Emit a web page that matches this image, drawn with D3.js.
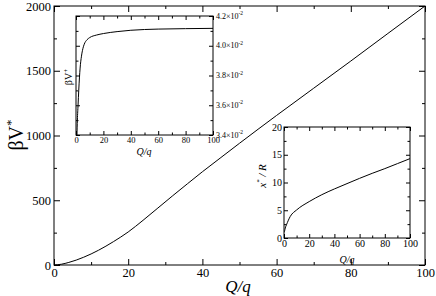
<!DOCTYPE html>
<html>
<head>
<meta charset="utf-8">
<script src="https://cdn.jsdelivr.net/npm/d3@7"></script>
<style>
  html, body { margin: 0; padding: 0; background: #fff; }
  svg { display: block; font-family: "Liberation Serif", "DejaVu Serif", serif; }
  svg text { font-family: "Liberation Serif", "DejaVu Serif", serif !important; }
</style>
</head>
<body>
<svg id="chart" width="436" height="296"></svg>
<script>
// ── Data ───────────────────────────────────────────────────────
const mainQ = [0, 2, 4, 6, 8, 12, 16, 20, 24, 28, 32, 36, 40, 45, 50, 60, 70, 80, 90, 100];
const mainV = [0, 6, 20, 38, 60, 114, 180, 255, 345, 440, 535, 628, 720, 830, 940, 1155, 1365, 1575, 1788, 2000];

const insetAQ = [0.7, 1, 1.5, 2, 3, 4, 5, 6, 8, 10, 15, 20, 30, 40, 60, 80, 100];
const insetAV = [0.0340, 0.0350, 0.0360, 0.0370, 0.0385, 0.0393, 0.0398, 0.0401, 0.0404, 0.04055,
                 0.04072, 0.04082, 0.04095, 0.04104, 0.04112, 0.04115, 0.04117];

const insetBQ = [0, 0.5, 1, 2, 5, 10, 20, 30, 40, 50, 60, 70, 80, 90, 100];
const insetBX = [1.0, 1.3, 1.8, 2.4, 3.9, 5.05, 6.56, 7.8, 8.84, 9.8, 10.75, 11.65, 12.5, 13.4, 14.3];

const qTicks = [0, 20, 40, 60, 80, 100];
const qMinor = [10, 30, 50, 70, 90];
const mainYTicks = [0, 500, 1000, 1500, 2000];
const mainYMinor = [250, 750, 1250, 1750];
const insetAYTicks = [0.034, 0.036, 0.038, 0.040, 0.042];
const insetAYMinor = [0.035, 0.037, 0.039, 0.041];
const insetAYLabels = ['3.4', '3.6', '3.8', '4.0', '4.2'];
const insetBYTicks = [0, 5, 10, 15, 20];
const insetBYMinor = [2.5, 7.5, 12.5, 17.5];

const svg = d3.select('#chart');

// ── Panel helper: frame + inward ticks on all four sides ───────
function panel(opts) {
  const { x, y, major, minor, fs } = opts;
  const [x0, x1] = x.range();
  const [y0, y1] = y.range(); // y0 bottom, y1 top
  const g = svg.append('g');

  g.append('rect')
    .attr('x', x0).attr('y', y1)
    .attr('width', x1 - x0).attr('height', y0 - y1)
    .attr('fill', '#fff');

  const clipId = opts.id + '-clip';
  g.append('clipPath').attr('id', clipId)
    .append('rect')
    .attr('x', x0).attr('y', y1)
    .attr('width', x1 - x0).attr('height', y0 - y1);

  const style = sel => {
    sel.attr('font-family', null);
    sel.select('.domain').remove();
    sel.selectAll('line').attr('stroke', '#000').attr('stroke-width', 1);
    sel.selectAll('text').attr('fill', '#000').attr('font-size', fs);
  };

  // bottom
  g.append('g').attr('transform', `translate(0,${y0})`)
    .call(d3.axisBottom(x).tickValues(opts.xTicks).tickSize(-major).tickPadding(opts.xPad).tickFormat(d3.format('d')))
    .call(style);
  g.append('g').attr('transform', `translate(0,${y0})`)
    .call(d3.axisBottom(x).tickValues(opts.xMinor).tickSize(-minor).tickFormat(''))
    .call(style);
  // top
  g.append('g').attr('transform', `translate(0,${y1})`)
    .call(d3.axisTop(x).tickValues(opts.xTicks).tickSize(-major).tickFormat(''))
    .call(style);
  g.append('g').attr('transform', `translate(0,${y1})`)
    .call(d3.axisTop(x).tickValues(opts.xMinor).tickSize(-minor).tickFormat(''))
    .call(style);

  // left
  g.append('g').attr('transform', `translate(${x0},0)`)
    .call(d3.axisLeft(y).tickValues(opts.yTicks).tickSize(-major).tickPadding(opts.yPad)
      .tickFormat(opts.yLabelsLeft ? opts.yFormat : ''))
    .call(style);
  g.append('g').attr('transform', `translate(${x0},0)`)
    .call(d3.axisLeft(y).tickValues(opts.yMinor).tickSize(-minor).tickFormat(''))
    .call(style);
  // right
  g.append('g').attr('transform', `translate(${x1},0)`)
    .call(d3.axisRight(y).tickValues(opts.yTicks).tickSize(-major).tickFormat(''))
    .call(style);
  g.append('g').attr('transform', `translate(${x1},0)`)
    .call(d3.axisRight(y).tickValues(opts.yMinor).tickSize(-minor).tickFormat(''))
    .call(style);

  g.append('rect')
    .attr('x', x0).attr('y', y1)
    .attr('width', x1 - x0).attr('height', y0 - y1)
    .attr('fill', 'none').attr('stroke', '#000').attr('stroke-width', 1);

  const line = d3.line()
    .x(d => x(d[0])).y(d => y(d[1]))
    .curve(d3.curveMonotoneX);
  g.append('path')
    .datum(d3.zip(opts.qs, opts.vs))
    .attr('clip-path', `url(#${clipId})`)
    .attr('fill', 'none').attr('stroke', '#000').attr('stroke-width', 1)
    .attr('d', line);

  return g;
}

// ── Main panel ────────────────────────────────────────────────
const xMain = d3.scaleLinear().domain([0, 100]).range([54, 425]);
const yMain = d3.scaleLinear().domain([0, 2000]).range([265, 6]);
panel({
  id: 'main', x: xMain, y: yMain, major: 6, minor: 3, fs: 12.5,
  xTicks: qTicks, xMinor: qMinor, xPad: 3,
  yTicks: mainYTicks, yMinor: mainYMinor, yPad: 3,
  yLabelsLeft: true, yFormat: d3.format('d'),
  qs: mainQ, vs: mainV
});
svg.append('text')
  .attr('x', 238).attr('y', 292)
  .attr('text-anchor', 'middle')
  .attr('font-size', 17).attr('font-style', 'italic')
  .text('Q/q');
const mainYLab = svg.append('text')
  .attr('transform', 'translate(23,135) rotate(-90)')
  .attr('text-anchor', 'middle')
  .attr('font-size', 20);
mainYLab.append('tspan').text('βV');
mainYLab.append('tspan').attr('font-size', 13).attr('dy', -8).text('*');

// ── Inset A: βV+ ──────────────────────────────────────────────
const xA = d3.scaleLinear().domain([0, 100]).range([76, 213]);
const yA = d3.scaleLinear().domain([0.034, 0.042]).range([135, 16]);
panel({
  id: 'insetA', x: xA, y: yA, major: 4, minor: 2.5, fs: 8.5,
  xTicks: qTicks, xMinor: qMinor, xPad: 2,
  yTicks: insetAYTicks, yMinor: insetAYMinor, yPad: 2,
  yLabelsLeft: false,
  qs: insetAQ, vs: insetAV
});
insetAYTicks.forEach((v, i) => {
  const t = svg.append('text')
    .attr('x', 216).attr('y', yA(v) + 2.5)
    .attr('font-size', 8);
  t.append('tspan').text(insetAYLabels[i] + '×10');
  t.append('tspan').attr('font-size', 5.5).attr('dy', -3.5).text('-2');
});
svg.append('text')
  .attr('x', 144).attr('y', 155)
  .attr('text-anchor', 'middle')
  .attr('font-size', 10).attr('font-style', 'italic')
  .text('Q/q');
const aLab = svg.append('text')
  .attr('transform', 'translate(72,77) rotate(-90)')
  .attr('text-anchor', 'middle')
  .attr('font-size', 10);
aLab.append('tspan').text('βV');
aLab.append('tspan').attr('font-size', 7).attr('dy', -4).text('+');

// ── Inset B: x*/R ─────────────────────────────────────────────
const xB = d3.scaleLinear().domain([0, 100]).range([284, 410]);
const yB = d3.scaleLinear().domain([0, 20]).range([238, 127]);
panel({
  id: 'insetB', x: xB, y: yB, major: 4, minor: 2.5, fs: 10,
  xTicks: qTicks, xMinor: qMinor, xPad: 2,
  yTicks: insetBYTicks, yMinor: insetBYMinor, yPad: 2,
  yLabelsLeft: true, yFormat: d3.format('d'),
  qs: insetBQ, vs: insetBX
});
svg.append('text')
  .attr('x', 347).attr('y', 263)
  .attr('text-anchor', 'middle')
  .attr('font-size', 10).attr('font-style', 'italic')
  .text('Q/q');
const bLab = svg.append('text')
  .attr('transform', 'translate(266,176) rotate(-90)')
  .attr('text-anchor', 'middle')
  .attr('font-size', 11).attr('font-style', 'italic');
bLab.append('tspan').text('x');
bLab.append('tspan').attr('font-size', 7).attr('dy', -5).text('*');
bLab.append('tspan').attr('dy', 5).text(' / R');
</script>
</body>
</html>
